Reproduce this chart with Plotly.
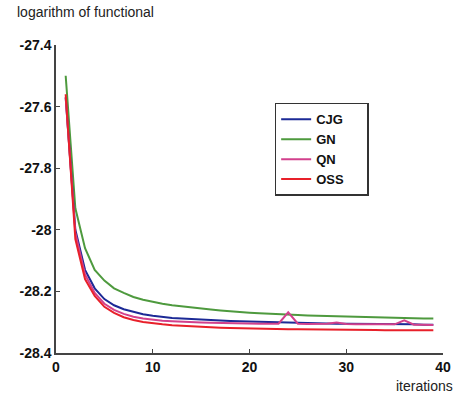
import plotly.graph_objects as go

iterations = list(range(1, 40))

gn = [-27.50, -27.93, -28.06, -28.13, -28.165, -28.19, -28.205, -28.218, -28.227, -28.234,
      -28.240, -28.245, -28.249, -28.253, -28.256, -28.259, -28.262, -28.265, -28.267, -28.269,
      -28.271, -28.273, -28.275, -28.276, -28.277, -28.278, -28.279, -28.280, -28.281, -28.282,
      -28.283, -28.284, -28.285, -28.286, -28.286, -28.287, -28.287, -28.288, -28.288]

cjg = [-27.57, -28.00, -28.13, -28.19, -28.225, -28.245, -28.258, -28.267, -28.274, -28.279,
       -28.283, -28.286, -28.288, -28.290, -28.292, -28.294, -28.295, -28.296, -28.297, -28.298,
       -28.299, -28.300, -28.300, -28.301, -28.303, -28.304, -28.304, -28.304, -28.305, -28.305,
       -28.305, -28.306, -28.306, -28.306, -28.307, -28.307, -28.307, -28.308, -28.308]

qn = [-27.57, -28.01, -28.145, -28.205, -28.24, -28.26, -28.273, -28.282, -28.288, -28.292,
      -28.295, -28.297, -28.299, -28.300, -28.301, -28.302, -28.303, -28.303, -28.304, -28.304,
      -28.305, -28.305, -28.305, -28.268, -28.305, -28.306, -28.306, -28.305, -28.301, -28.306,
      -28.307, -28.307, -28.307, -28.307, -28.307, -28.294, -28.308, -28.308, -28.309]

oss = [-27.56, -28.03, -28.16, -28.215, -28.25, -28.27, -28.284, -28.293, -28.299, -28.304,
       -28.307, -28.310, -28.312, -28.314, -28.316, -28.317, -28.318, -28.319, -28.320, -28.321,
       -28.321, -28.322, -28.322, -28.323, -28.323, -28.323, -28.324, -28.324, -28.324, -28.325,
       -28.325, -28.325, -28.325, -28.326, -28.326, -28.326, -28.326, -28.326, -28.326]

series = [("CJG", cjg, "#1c2a96"), ("GN", gn, "#4e9a3e"), ("QN", qn, "#d2408c"), ("OSS", oss, "#e8202a")]

x_ticks = [0, 10, 20, 30, 40]
y_ticks = [-28.4, -28.2, -28.0, -27.8, -27.6, -27.4]
y_tick_labels = ["-28.4", "-28.2", "-28", "-27.8", "-27.6", "-27.4"]

fig = go.Figure()
order = [1, 0, 2, 3]
for i in order:
    name, vals, col = series[i]
    fig.add_trace(go.Scatter(x=iterations, y=vals, mode="lines",
                             name=name + "\u00a0" * 5,
                             line=dict(color=col, width=2), legendrank=i))

fig.update_layout(
    width=461, height=400,
    margin=dict(l=56, r=10, t=45, b=47),
    plot_bgcolor="white", paper_bgcolor="white",
    font=dict(family="Arial, Liberation Sans", size=14, color="#222"),
    showlegend=True,
    legend=dict(x=0.565, y=0.812, xanchor="left", yanchor="top",
                bordercolor="#333", borderwidth=1.5, bgcolor="white",
                font=dict(size=13, weight="bold", color="#111"),
                traceorder="normal", itemwidth=30, tracegroupgap=0),
    xaxis=dict(range=[0, 40], tickvals=x_ticks, showgrid=False, zeroline=False,
               showline=True, linecolor="#444", linewidth=1.5, ticks="inside", ticklen=4,
               tickcolor="#444", tickfont=dict(size=14, weight="bold", color="#111")),
    yaxis=dict(range=[-28.4, -27.4], tickvals=y_ticks, ticktext=y_tick_labels, showgrid=False,
               zeroline=False, showline=True, linecolor="#444", linewidth=1.5, ticks="inside",
               ticklen=4, tickcolor="#444", tickfont=dict(size=14, weight="bold", color="#111")),
    annotations=[
        dict(text="logarithm of functional", xref="paper", yref="paper", x=-0.105, y=1.0,
             yshift=33, xanchor="left", yanchor="middle", showarrow=False,
             font=dict(size=14, color="#222")),
        dict(text="iterations", xref="paper", yref="paper", x=1.0, y=0.0, xshift=12,
             yshift=-33, xanchor="right", yanchor="middle", showarrow=False,
             font=dict(size=14, color="#222")),
    ],
)

fig.write_html("out.html")
